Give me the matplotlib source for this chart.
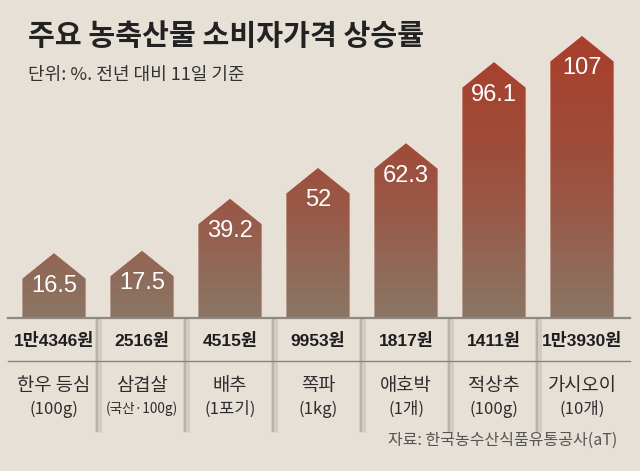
import numpy as np
import matplotlib
matplotlib.use("Agg")
from matplotlib import pyplot as plt
from matplotlib.patches import Polygon
from matplotlib.colors import LinearSegmentedColormap

# Data
items = ["한우 등심", "삼겹살", "배추", "쪽파", "애호박", "적상추", "가시오이"]
units = ["(100g)", "(국산·100g)", "(1포기)", "(1kg)", "(1개)", "(100g)", "(10개)"]
prices = ["1만4346원", "2516원", "4515원", "9953원", "1817원", "1411원", "1만3930원"]
rates = [16.5, 17.5, 39.2, 52, 62.3, 96.1, 107]
rate_labels = ["16.5", "17.5", "39.2", "52", "62.3", "96.1", "107"]

title = "주요 농축산물 소비자가격 상승률"
subtitle = "단위: %. 전년 대비 11일 기준"
source = "자료: 한국농수산식품유통공사(aT)"

# Layout (pixels of a 640x471 canvas)
W, H = 640, 471
bg = "#e6e0d7"
col0, col_step = 54, 88        # centre of first column, column pitch
base_px = 318                   # baseline of the bars
px_per_unit = 2.4
bar_w = 0.73
peak = 10.8                     # height of the roof on each bar

kr = ["Noto Sans CJK KR", "DejaVu Sans"]
latin = ["Liberation Sans", "Noto Sans CJK KR", "DejaVu Sans"]

fig = plt.figure(figsize=(W / 100, H / 100), dpi=100, facecolor=bg)
ax = fig.add_axes([0, 0, 1, 1], frameon=False)
ax.set_xticks([])
ax.set_yticks([])
ax.set_facecolor(bg)


def fy(px):
    return 1 - px / H


def xd(px):
    return (px - col0) / col_step


# vertical brown -> red gradient shared by all bars
top = max(rates) + peak
cmap = LinearSegmentedColormap.from_list(
    "roof",
    [(0.0, "#8b7664"), (0.14, "#8f6c5b"), (0.35, "#985b4a"),
     (0.6, "#9f4c3a"), (1.0, "#a83f2b")])
grad = np.linspace(0, 1, 256).reshape(-1, 1)

x = np.arange(len(rates))
for xi, v, lab in zip(x, rates, rate_labels):
    l, r = xi - bar_w / 2, xi + bar_w / 2
    poly = Polygon([(l, 0), (l, v), (xi, v + peak), (r, v), (r, 0)],
                   closed=True, facecolor="none", edgecolor="#f3e2d8",
                   lw=0.7, zorder=3)
    ax.add_patch(poly)
    im = ax.imshow(grad, cmap=cmap, origin="lower", aspect="auto",
                   extent=[l, r, 0, top], zorder=2)
    im.set_clip_path(poly)
    ax.text(xi, v - 3, lab, ha="center", va="center", color="white",
            fontsize=17, family=latin, zorder=4)

ax.set_xlim(-col0 / col_step, (W - col0) / col_step)
ax.set_ylim(-(H - base_px) / px_per_unit, base_px / px_per_unit)

# table under the bars
tr = ax.get_xaxis_transform()
for i in range(len(rates) - 1):
    ax.plot([i + 0.5, i + 0.5], [fy(base_px), fy(432)], transform=tr,
            color="#d2cbc0", lw=5, solid_capstyle="butt", zorder=1)
    ax.plot([i + 0.5 - 0.01, i + 0.5 - 0.01], [fy(base_px), fy(432)],
            transform=tr, color="#b9b1a6", lw=1.4, solid_capstyle="butt",
            zorder=1)

ax.plot([xd(8), xd(630)], [fy(base_px), fy(base_px)], transform=tr,
        color="#8f8982", lw=1.6, zorder=5)
ax.plot([xd(8), xd(630)], [fy(361), fy(361)], transform=tr,
        color="#8a847d", lw=1.0, zorder=5)

for xi, p, name, u in zip(x, prices, items, units):
    ax.text(xi, fy(341), p, transform=tr, ha="center", va="center",
            fontsize=12.5, fontweight="bold", family=latin, color="#1e1e1e")
    ax.text(xi, fy(385), name, transform=tr, ha="center", va="center",
            fontsize=13.5, family=kr, color="#2e2e2e")
    ax.text(xi, fy(409), u, transform=tr, ha="center", va="center",
            fontsize=9.8 if len(u) > 7 else 12, family=kr, color="#2e2e2e")

fig.text(28 / W, fy(36), title, ha="left", va="center", fontsize=21,
         fontweight="bold", family=kr, color="#222222")
fig.text(28 / W, fy(75), subtitle, ha="left", va="center", fontsize=13,
         family=kr, color="#333333")
fig.text(617 / W, fy(440), source, ha="right", va="center", fontsize=11.5,
         family=kr, color="#555555")

fig.savefig("out.png", dpi=100, facecolor=bg)
